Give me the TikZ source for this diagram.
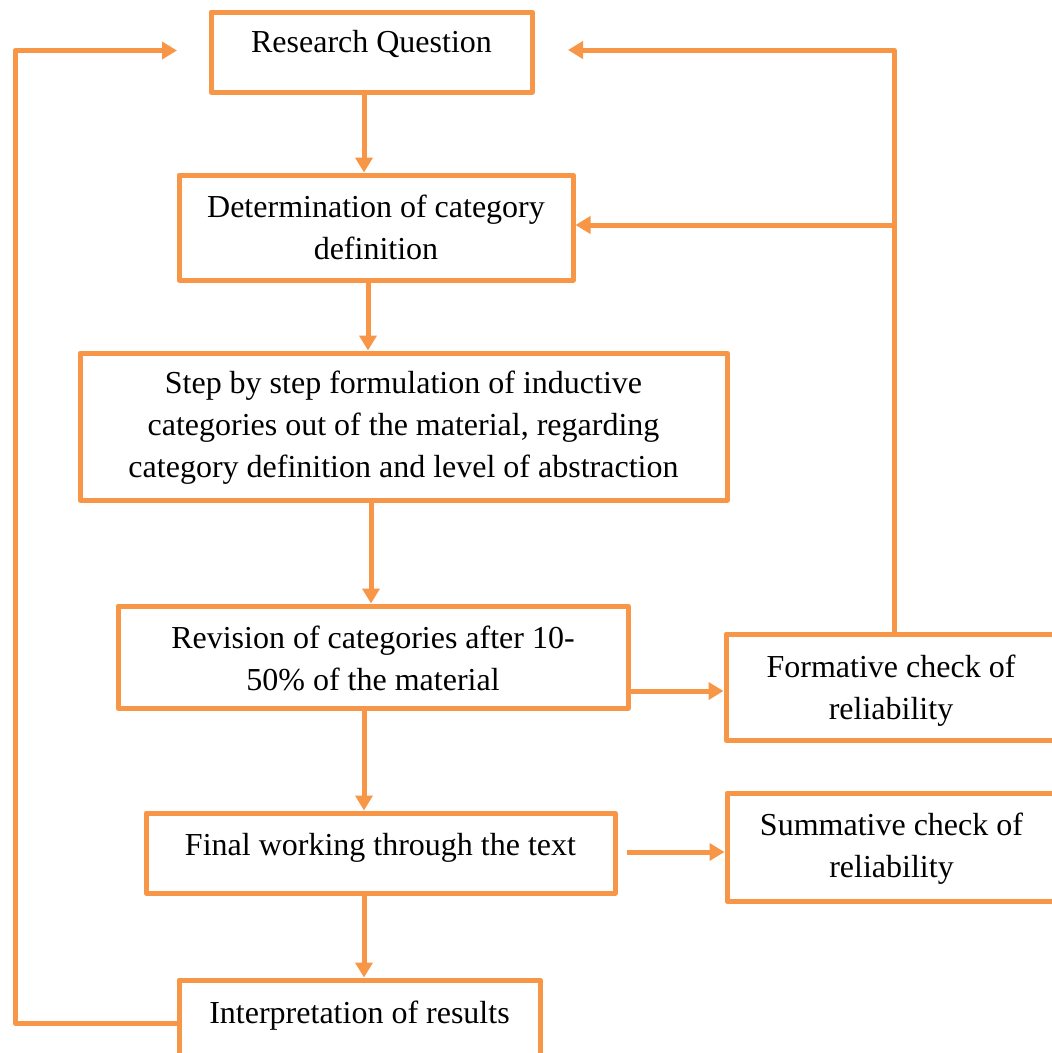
\documentclass[tikz,border=0pt]{standalone}
\usepackage{fontspec}
\setmainfont{Liberation Serif}
\usetikzlibrary{arrows.meta}
\definecolor{flow}{HTML}{F79646}
\begin{document}
\begin{tikzpicture}[x=1pt,y=-1pt,
  box/.style={draw=flow, line width=5pt, rectangle, inner sep=0pt, line join=round, fill=white},
  txt/.style={font=\fontsize{32}{42}\selectfont, align=center, anchor=base, inner sep=0pt},
  link/.style={draw=flow, line width=5pt, line join=round},
  arr/.style={link, -{Triangle[length=15pt,width=17pt]}}]
\useasboundingbox (0,0) rectangle (1052,1053);

% boxes
\node[box, minimum width=321pt, minimum height=80pt]  (rq)     at (371.5,52)   {};
\node[box, minimum width=394pt, minimum height=105pt] (det)    at (376,227.5)  {};
\node[box, minimum width=647pt, minimum height=147pt] (step)   at (403.5,426.5){};
\node[box, minimum width=510pt, minimum height=102pt] (rev)    at (373,657)    {};
\node[box, minimum width=330pt, minimum height=106pt] (form)   at (891,687)    {};
\node[box, minimum width=469pt, minimum height=80pt]  (final)  at (380.5,853)  {};
\node[box, minimum width=329pt, minimum height=108pt] (summ)   at (891.5,847)  {};
\node[box, minimum width=361pt, minimum height=80pt]  (interp) at (359.5,1020) {};

% texts (the base anchor of a multi-line node sits on its last line)
\node[txt] (rq-t)     at ([yshift=-43pt]rq.north)      {Research Question};
\node[txt] (det-t)    at ([yshift=-87pt]det.north)     {Determination of category\\definition};
\node[txt] (step-t)   at ([yshift=-127pt]step.north)   {Step by step formulation of inductive\\categories out of the material, regarding\\category definition and level of abstraction};
\node[txt] (rev-t)    at ([yshift=-87pt]rev.north)     {Revision of categories after 10-\\50\% of the material};
\node[txt] (form-t)   at ([yshift=-88pt]form.north)    {Formative check of\\reliability};
\node[txt] (final-t)  at ([yshift=-45pt]final.north)   {Final working through the text};
\node[txt] (summ-t)   at ([yshift=-87pt]summ.north)    {Summative check of\\reliability};
\node[txt] (interp-t) at ([yshift=-46pt]interp.north)  {Interpretation of results};

% column positions of the main flow
\coordinate (x1) at (364,0);
\coordinate (x2) at (368,0);
\coordinate (x3) at (371,0);

\draw[arr] (rq.south -| x1)    -- (det.north -| x1);
\draw[arr] (det.south -| x2)   -- (step.north -| x2);
\draw[arr] (step.south -| x3)  -- (rev.north -| x3);
\draw[arr] (rev.south -| x1)   -- (final.north -| x1);
\draw[arr] (final.south -| x1) -- (interp.north -| x1);

% side checks
\coordinate (revout) at (631,691);
\coordinate (finout) at (627,852);
\draw[arr] (revout) -- (form.west |- revout);
\draw[arr] (finout) -- (summ.west |- finout);

% feedback from the formative check
\coordinate (fbtop) at (894,50);
\coordinate (fbmid) at (894,225);
\coordinate (rqin)  at (568,50);
\draw[arr] (form.north -| fbtop) -- (fbtop) -- (rqin);
\draw[arr] (fbmid) -- (det.east |- fbmid);

% loop back from the results
\coordinate (lb) at (15,1023);
\coordinate (lt) at (15,50.5);
\coordinate (rqleft) at (177,50.5);
\draw[arr] (interp.west |- lb) -- (lb) -- (lt) -- (rqleft);
\end{tikzpicture}
\end{document}
